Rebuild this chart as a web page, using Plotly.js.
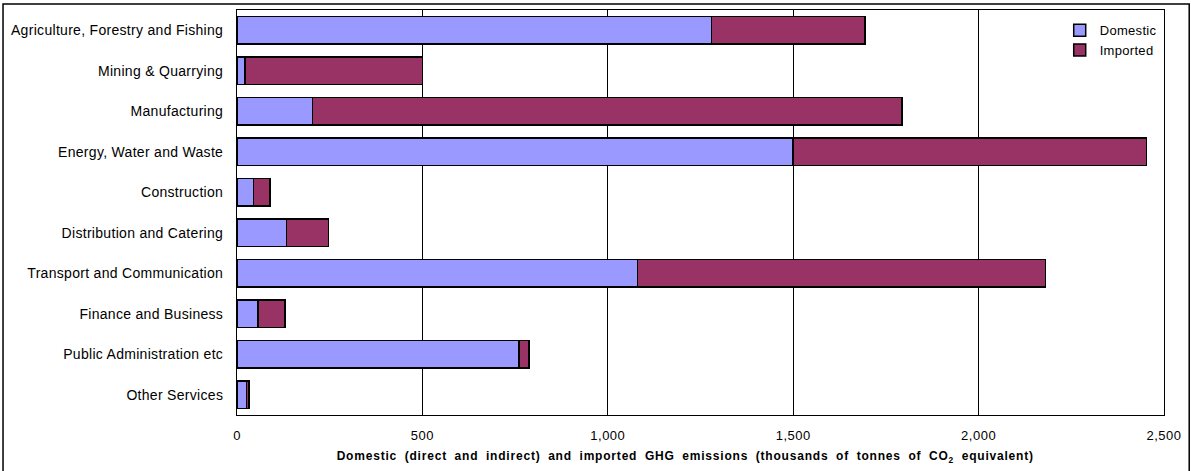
<!DOCTYPE html>
<html>
<head>
<meta charset="utf-8">
<script src="https://cdn.plot.ly/plotly-3.0.1.min.js"></script>
<style>
  html, body { margin: 0; padding: 0; background: #ffffff; }
  #chart { width: 1191px; height: 471px; }
  #chart .xtitle { letter-spacing: 0.8px !important; word-spacing: 3.5px !important; }
  #chart .ytick text { letter-spacing: 0.3px !important; }
  #chart .xtick text { letter-spacing: 0.5px !important; }
  #chart .legendtext { letter-spacing: 0.3px !important; }
</style>
</head>
<body>
<div id="chart"></div>
<script>
const categories = [
  "Agriculture, Forestry and Fishing",
  "Mining & Quarrying",
  "Manufacturing",
  "Energy, Water and Waste",
  "Construction",
  "Distribution and Catering",
  "Transport and Communication",
  "Finance and Business",
  "Public Administration etc",
  "Other Services"
];
const domestic = [1280, 22, 203, 1500, 45, 134, 1080, 57, 761, 26];
const imported = [414, 478, 1590, 953, 44, 113, 1100, 73, 27, 6];
const xTickValues = [0, 500, 1000, 1500, 2000, 2500];
const xTickLabels = ["0", "500", "1,000", "1,500", "2,000", "2,500"];

const font = "Liberation Sans, Arial, sans-serif";

const traces = [
  {
    type: "bar", orientation: "h", name: "Domestic",
    y: categories, x: domestic,
    marker: { color: "#9999FF", line: { color: "#000000", width: 1.5 } },
    hoverinfo: "x+y"
  },
  {
    type: "bar", orientation: "h", name: "Imported",
    y: categories, x: imported,
    marker: { color: "#993366", line: { color: "#000000", width: 1.5 } },
    hoverinfo: "x+y"
  }
];

const layout = {
  width: 1191, height: 471,
  margin: { l: 237, r: 27, t: 10, b: 56 },
  paper_bgcolor: "#ffffff", plot_bgcolor: "#ffffff",
  barmode: "stack", bargap: 0.33,
  font: { family: font, size: 12, color: "#000000" },
  showlegend: true,
  legend: {
    x: 0.8875, xanchor: "left", y: 0.987, yanchor: "top",
    bgcolor: "rgba(0,0,0,0)", borderwidth: 0,
    font: { family: font, size: 13, color: "#000000" },
    itemwidth: 30, tracegroupgap: 0, traceorder: "normal"
  },
  xaxis: {
    range: [0, 2500], tickvals: xTickValues, ticktext: xTickLabels,
    showgrid: true, gridcolor: "#000000", gridwidth: 1,
    zeroline: false, showline: true, linecolor: "#000000", linewidth: 1, mirror: true,
    ticks: "", ticklabelstandoff: 8,
    tickfont: { family: font, size: 13, color: "#000000" },
    title: {
      text: "Domestic (direct and indirect) and imported GHG emissions (thousands of tonnes of CO<sub>2</sub> equivalent)&nbsp;&nbsp;&nbsp;&nbsp;",
      font: { family: font, size: 12, color: "#000000", weight: "bold" },
      standoff: 10
    },
    fixedrange: true
  },
  yaxis: {
    autorange: "reversed", type: "category",
    showgrid: false, zeroline: false,
    showline: true, linecolor: "#000000", linewidth: 1, mirror: true,
    ticks: "", ticklabelstandoff: 10,
    tickfont: { family: font, size: 14, color: "#000000" },
    fixedrange: true
  },
  shapes: [
    {
      type: "rect", xref: "paper", yref: "paper",
      x0: -0.2524, x1: 1.0272, y0: -0.16, y1: 1.0148,
      line: { color: "#000000", width: 1.5 }, fillcolor: "rgba(0,0,0,0)", layer: "below"
    }
  ]
};

Plotly.newPlot("chart", traces, layout, { displayModeBar: false, staticPlot: true });
</script>
</body>
</html>
